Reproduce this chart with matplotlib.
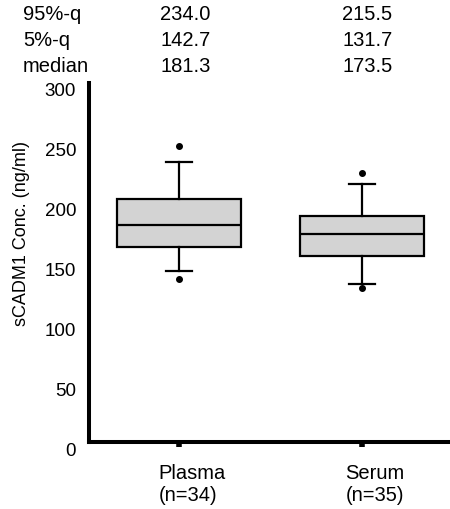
import matplotlib
matplotlib.use("Agg")
import matplotlib.pyplot as plt
import matplotlib.transforms as mtransforms

plt.rcParams['font.family'] = ['Liberation Sans', 'DejaVu Sans']

# data
groups = ["Plasma\n(n=34)", "Serum\n(n=35)"]
q05 = [142.7, 131.7]
q95 = [234.0, 215.5]
medians = [181.3, 173.5]
q1 = [163.3, 155.7]
q3 = [203.1, 189.0]
outliers = [[247.0, 136.5], [224.5, 129.0]]

row_names = ["95%-q", "5%-q", "median"]
row_values = [q95, q05, medians]

yticks = [0, 50, 100, 150, 200, 250, 300]

fig = plt.figure(figsize=(4.5, 5.09), dpi=100)
ax = fig.add_axes([0.197, 0.1316, 0.801, 0.7054])

stats = []
for i in range(len(groups)):
    stats.append({
        "med": medians[i], "q1": q1[i], "q3": q3[i],
        "whislo": q05[i], "whishi": q95[i],
        "fliers": outliers[i], "label": groups[i],
    })

lw = 1.6
ax.bxp(stats, positions=[1, 2], widths=0.68, patch_artist=True,
       boxprops=dict(facecolor="#d3d3d3", edgecolor="black", linewidth=lw),
       medianprops=dict(color="black", linewidth=lw),
       whiskerprops=dict(color="black", linewidth=lw),
       capprops=dict(color="black", linewidth=lw),
       capwidths=0.14,
       flierprops=dict(marker="o", markerfacecolor="black", markeredgecolor="black",
                       markersize=4))

ax.set_xlim(0.505, 2.475)
ax.set_ylim(0, 300)
ax.set_yticks(yticks)
ax.set_yticklabels([str(v) for v in yticks], fontsize=13.5)
ax.tick_params(axis="y", length=0, pad=9)
ax.tick_params(axis="x", length=3.5, width=4, pad=12, labelsize=14.5)

# shift labels like in the original
down = mtransforms.ScaledTranslation(0, -7 / 100, fig.dpi_scale_trans)
for lab in ax.get_yticklabels():
    lab.set_transform(lab.get_transform() + down)
right = mtransforms.ScaledTranslation(13 / 100, 0, fig.dpi_scale_trans)
for lab in ax.get_xticklabels():
    lab.set_transform(lab.get_transform() + right)
    lab.set_linespacing(1.25)
    lab.set_multialignment("left")

for s in ["top", "right"]:
    ax.spines[s].set_visible(False)
for s in ["left", "bottom"]:
    ax.spines[s].set_linewidth(2.9)

fig.text(22 / 450, 1 - 233 / 509, "sCADM1 Conc. (ng/ml)", rotation=90,
         ha="center", va="center", fontsize=13)

# summary table above the plot
row_y = [14, 41, 66]
for r in range(len(row_names)):
    fig.text(23 / 450, 1 - row_y[r] / 509, row_names[r], ha="left", va="center", fontsize=14.5)
    for i, x in enumerate([185.5, 367.5]):
        fig.text(x / 450, 1 - row_y[r] / 509, "%.1f" % row_values[r][i],
                 ha="center", va="center", fontsize=14.5)

fig.savefig("out.png", dpi=100)
